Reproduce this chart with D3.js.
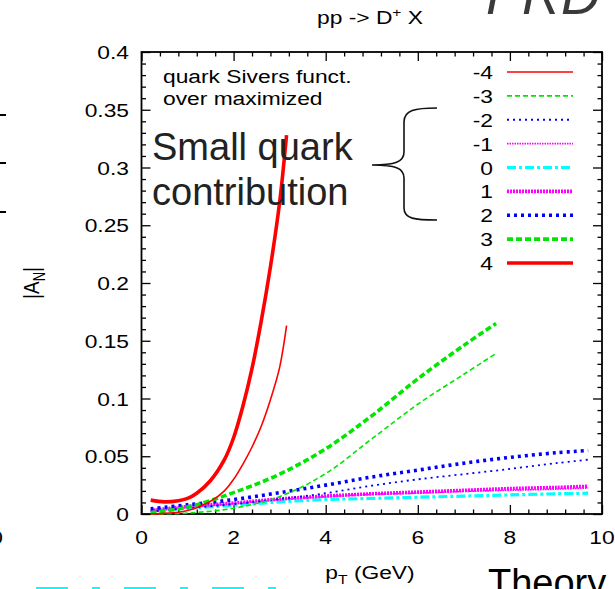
<!DOCTYPE html>
<html><head><meta charset="utf-8">
<script src="https://cdn.jsdelivr.net/npm/d3@7"></script>
<style>body{margin:0;background:#fff;overflow:hidden}</style></head>
<body><svg id="c" width="615" height="589" xmlns="http://www.w3.org/2000/svg"></svg>
<script>
// ---- data ----
const seriesNames = ["-4","-3","-2","-1","0","1","2","3","4"];
const pTshort = [0.2,0.5,0.8,1.0,1.2,1.5,1.8,2.0,2.2,2.4,2.6,2.8,3.0,3.15];
const pTmid   = [0.2,1,2,3,4,5,6,7,7.7];
const pTlong  = [0.2,1,2,3,4,5,6,7,8,9,9.7];
const A_m4 = [0.000,0.0005,0.0015,0.003,0.0055,0.011,0.020,0.030,0.043,0.058,0.076,0.099,0.127,0.163];
const A_p4 = [0.012,0.0105,0.0115,0.0135,0.018,0.029,0.047,0.066,0.093,0.126,0.167,0.214,0.270,0.328];
const A_m3 = [0.0,0.0008,0.005,0.015,0.035,0.065,0.095,0.121,0.139];
const A_p3 = [0.001,0.006,0.0185,0.0345,0.0565,0.085,0.117,0.146,0.165];
const A_m2 = [0.002,0.005,0.0085,0.013,0.018,0.0245,0.030,0.0345,0.039,0.044,0.047];
const A_p2 = [0.0045,0.008,0.0125,0.0185,0.025,0.032,0.038,0.044,0.049,0.053,0.055];
const A_m1 = [0.0025,0.006,0.009,0.0125,0.015,0.017,0.018,0.0195,0.0205,0.0215,0.0225];
const A_p1 = [0.003,0.0065,0.0095,0.013,0.0155,0.0175,0.019,0.0205,0.022,0.023,0.024];
const A_0  = [0.003,0.005,0.0075,0.0105,0.0125,0.0135,0.0145,0.0155,0.0165,0.0175,0.018];
const xMajor = [0,2,4,6,8,10];
const yMajor = [0,0.05,0.1,0.15,0.2,0.25,0.3,0.35,0.4];
const yTickLabels = ["0","0.05","0.1","0.15","0.2","0.25","0.3","0.35","0.4"];

// ---- styles ----
const styles = {
  "-4":{c:"#ff0000",w:1.6,d:null},
  "-3":{c:"#00e600",w:1.6,d:"5,3"},
  "-2":{c:"#0000ff",w:1.8,d:"2,4"},
  "-1":{c:"#ff00ff",w:1.6,d:"1.5,1"},
  "0": {c:"#00ffff",w:3.2,d:"9,3,3,3"},
  "1": {c:"#ff00ff",w:3.6,d:"2,1"},
  "2": {c:"#0000ff",w:3.6,d:"3,4"},
  "3": {c:"#00e600",w:3.6,d:"6,3"},
  "4": {c:"#ff0000",w:3.6,d:null}
};
const seriesData = {
  "-4":[pTshort,A_m4],"4":[pTshort,A_p4],
  "-3":[pTmid,A_m3],"3":[pTmid,A_p3],
  "-2":[pTlong,A_m2],"2":[pTlong,A_p2],
  "-1":[pTlong,A_m1],"1":[pTlong,A_p1],
  "0":[pTlong,A_0]
};

const svg = d3.select("#c");
const FONT = "'Liberation Sans', Arial, Helvetica, sans-serif";
const SX = 1.2;
const x = d3.scaleLinear().domain([0,10]).range([141.5,602]);
const y = d3.scaleLinear().domain([0,0.4]).range([514,52]);

function stext(px,py,anchor,size){
  return svg.append("text").attr("transform",`translate(${px},${py}) scale(${SX},1)`)
    .attr("text-anchor",anchor).attr("font-family",FONT).attr("font-size",size).attr("fill","#000");
}

// ---- axes (ticks inward on all four sides) ----
const xMinor = d3.range(0,10.001,0.4).filter(v=>!xMajor.some(m=>Math.abs(m-v)<1e-6));
const yMinor = d3.range(0,0.4001,0.01).filter(v=>!yMajor.some(m=>Math.abs(m-v)<1e-6));
function axis(gen, scale, vals, size, tr){
  svg.append("g").attr("transform",tr).call(gen(scale).tickValues(vals).tickSize(size).tickFormat(""))
    .call(g=>g.select(".domain").remove())
    .call(g=>g.selectAll("line").attr("stroke","#000").attr("stroke-width",1.3));
}
axis(d3.axisBottom,x,xMajor,-9,`translate(0,${y(0)})`);
axis(d3.axisBottom,x,xMinor,-4.5,`translate(0,${y(0)})`);
axis(d3.axisTop,x,xMajor,-9,`translate(0,${y(0.4)})`);
axis(d3.axisTop,x,xMinor,-4.5,`translate(0,${y(0.4)})`);
axis(d3.axisLeft,y,yMajor,-9,`translate(${x(0)},0)`);
axis(d3.axisLeft,y,yMinor,-4.5,`translate(${x(0)},0)`);
axis(d3.axisRight,y,yMajor,-9,`translate(${x(10)},0)`);
axis(d3.axisRight,y,yMinor,-4.5,`translate(${x(10)},0)`);
svg.append("rect").attr("x",x(0)).attr("y",y(0.4)).attr("width",x(10)-x(0)).attr("height",y(0)-y(0.4))
  .attr("fill","none").attr("stroke","#000").attr("stroke-width",1.8);

// tick labels
xMajor.forEach(v=>stext(x(v),544,"middle",19).text(v));
yMajor.forEach((v,i)=>stext(129,y(v)+7,"end",19).text(yTickLabels[i]));

// ---- curves ----
const line = d3.line().curve(d3.curveCatmullRom.alpha(0.5)).x(d=>x(d[0])).y(d=>y(d[1]));
const drawOrder = ["0","-1","1","-2","2","-3","3","-4","4"];
drawOrder.forEach(k=>{
  const [xs,ys]=seriesData[k]; const s=styles[k];
  svg.append("path").datum(xs.map((v,i)=>[v,ys[i]])).attr("d",line)
    .attr("fill","none").attr("stroke",s.c).attr("stroke-width",s.w)
    .attr("stroke-dasharray",s.d).attr("stroke-linejoin","round");
});

// ---- legend ----
const legY = d3.scalePoint().domain(seriesNames).range([72,263]);
seriesNames.forEach(k=>{
  const s=styles[k];
  stext(493,legY(k)+7,"end",19).text(k);
  svg.append("line").attr("x1",507).attr("x2",573).attr("y1",legY(k)).attr("y2",legY(k))
    .attr("stroke",s.c).attr("stroke-width",s.w).attr("stroke-dasharray",s.d);
});

// ---- texts ----
const t = stext(370,24,"middle",19);
t.append("tspan").text("pp -> D");
t.append("tspan").attr("font-size",13).attr("dy",-7).text("+");
t.append("tspan").attr("dy",7).text(" X");

const xl = stext(370,579,"middle",19);
xl.append("tspan").text("p");
xl.append("tspan").attr("font-size",13).attr("dy",5).text("T");
xl.append("tspan").attr("dy",-5).text(" (GeV)");

const yl = svg.append("text").attr("transform",`translate(39,283) scale(${SX},1) rotate(-90)`)
  .attr("text-anchor","middle").attr("font-family",FONT).attr("font-size",19);
yl.append("tspan").text("|A");
yl.append("tspan").attr("font-size",13).attr("dy",5).text("N");
yl.append("tspan").attr("dy",-5).text("|");

stext(163,83,"start",19).text("quark Sivers funct.");
stext(163,105,"start",19).text("over maximized");

svg.append("text").attr("x",152).attr("y",160).attr("font-family",FONT).attr("font-size",38).attr("fill","#222").text("Small quark");
svg.append("text").attr("x",152).attr("y",205).attr("font-family",FONT).attr("font-size",38).attr("fill","#222").text("contribution");

// brace
svg.append("path").attr("d","M437,108 C415,108 404,110 404,122 L404,152 C404,162 395,165 372,165 C395,165 404,168 404,178 L404,208 C404,219 415,220 437,220")
  .attr("fill","none").attr("stroke","#111").attr("stroke-width",1.6);

// PRD and Theory (from slide)
svg.append("text").attr("x",486).attr("y",14).attr("font-family",FONT).attr("font-style","italic")
  .attr("font-size",54).attr("fill","#3a3a3a").text("PRD");
svg.append("text").attr("x",488).attr("y",596).attr("font-family",FONT)
  .attr("font-size",38).attr("fill","#000").text("Theory");

// neighbouring panel remnants
[115,163,212].forEach(v=>svg.append("line").attr("x1",0).attr("x2",6).attr("y1",v).attr("y2",v).attr("stroke","#000").attr("stroke-width",2));
stext(3,544,"end",19).text("10");
svg.append("line").attr("x1",36).attr("x2",276).attr("y1",588).attr("y2",588)
  .attr("stroke","#00ffff").attr("stroke-width",2).attr("stroke-dasharray","32,24,8,24");
</script></body></html>
